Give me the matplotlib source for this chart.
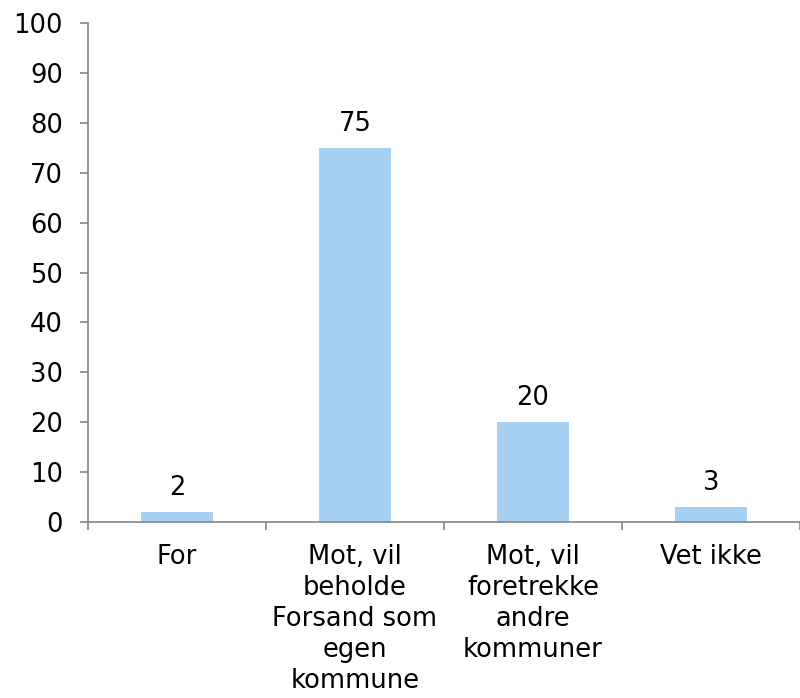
import matplotlib.pyplot as plt

# data
categories = ["For", "Mot, vil\nbeholde\nForsand som\negen\nkommune",
              "Mot, vil\nforetrekke\nandre\nkommuner", "Vet ikke"]
values = [2, 75, 20, 3]
yticks = [0, 10, 20, 30, 40, 50, 60, 70, 80, 90, 100]

plt.rcParams['font.family'] = ['DejaVu Sans']
fig = plt.figure(figsize=(8, 6.98), dpi=100)
ax = fig.add_axes([0.11, 0.2521, 0.89, 0.7149])

x = range(len(categories))
bars = ax.bar(x, values, width=0.4, color="#A6D1F3")
ax.bar_label(bars, labels=[str(v) for v in values], padding=8, fontsize=18.5)

ax.set_xlim(-0.5, len(categories) - 0.5)
ax.set_ylim(0, 100)
ax.set_yticks(yticks)
ax.tick_params(axis='y', labelsize=18.5, length=6, width=1.2, color="#868686", pad=12)

# category labels at bar centers, tick marks between categories
ax.set_xticks(list(x))
ax.set_xticklabels(categories, fontsize=18.5, linespacing=1.25)
ax.set_xticks([i - 0.5 for i in range(len(categories) + 1)], minor=True)
ax.tick_params(axis='x', which='major', length=0, pad=16)
ax.tick_params(axis='x', which='minor', length=6, width=1.2, color="#868686")

for side in ['top', 'right']:
    ax.spines[side].set_visible(False)
for side in ['left', 'bottom']:
    ax.spines[side].set_color("#868686")
    ax.spines[side].set_linewidth(1.2)

fig.savefig("out.png", dpi=100)
